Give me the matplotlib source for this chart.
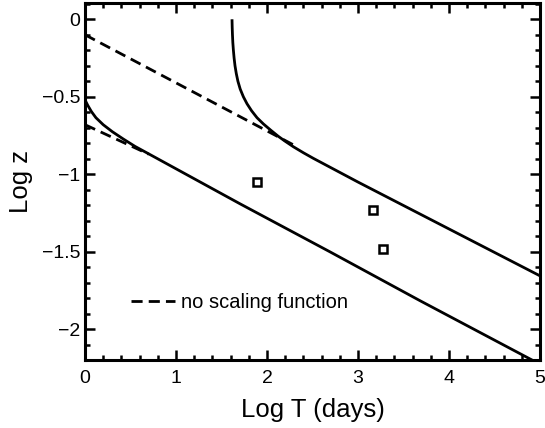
import matplotlib
matplotlib.use("Agg")
import matplotlib.pyplot as plt
from matplotlib.ticker import MultipleLocator

plt.rcParams['font.family'] = ['Liberation Sans', 'DejaVu Sans']

# upper model curve (with scaling function)
upper_x = [1.615, 1.617, 1.620, 1.624, 1.630, 1.638, 1.648, 1.662, 1.680,
           1.705, 1.740, 1.780, 1.830, 1.890, 1.960, 2.040, 2.124, 2.200,
           2.289, 2.400, 2.509, 3.0, 5.0]
upper_y = [0.0, -0.05, -0.10, -0.15, -0.198, -0.25, -0.30, -0.35, -0.40,
           -0.45, -0.50, -0.545, -0.59, -0.635, -0.675, -0.715, -0.755, -0.787,
           -0.822, -0.861, -0.897, -1.05, -1.655]

# lower model curve (with scaling function)
lower_x = [0.0, 0.03, 0.07, 0.12, 0.20, 0.30, 0.42, 0.55, 0.70, 1.703,
           2.692, 3.681, 5.0]
lower_y = [-0.52, -0.555, -0.595, -0.635, -0.68, -0.725, -0.772, -0.82,
           -0.868, -1.19, -1.50, -1.815, -2.225]

# power laws without the scaling function
dash_upper_x = [0.0, 2.3]
dash_upper_y = [-0.10, -0.813]
dash_lower_x = [0.0, 0.7]
dash_lower_y = [-0.68, -0.87]

# observed points
obs_x = [1.886, 3.168, 3.278]
obs_y = [-1.052, -1.230, -1.482]

fig = plt.figure(figsize=(5.45, 4.28), dpi=100)
ax = fig.add_axes([0.156, 0.159, 0.835, 0.834])

lw = 2.0
dash = (4, 2.2)
ax.plot(upper_x, upper_y, color='black', lw=lw, solid_capstyle='butt',
        solid_joinstyle='round')
ax.plot(lower_x, lower_y, color='black', lw=lw, solid_capstyle='butt',
        solid_joinstyle='round')
ax.plot(dash_upper_x, dash_upper_y, color='black', lw=lw, dashes=dash,
        label='no scaling function')
ax.plot(dash_lower_x, dash_lower_y, color='black', lw=lw, dashes=dash)
ax.plot(obs_x, obs_y, linestyle='none', marker='s', markersize=5.5,
        markerfacecolor='white', markeredgecolor='black', markeredgewidth=1.8)

ax.set_xlim(0, 5)
ax.set_ylim(-2.197, 0.105)

ax.xaxis.set_major_locator(MultipleLocator(1))
ax.xaxis.set_minor_locator(MultipleLocator(0.2))
ax.yaxis.set_major_locator(MultipleLocator(0.5))
ax.yaxis.set_minor_locator(MultipleLocator(0.1))
ax.set_yticks([0, -0.5, -1, -1.5, -2])
ax.set_yticklabels(['0', '\u22120.5', '\u22121', '\u22121.5', '\u22122'])

ax.tick_params(which='both', direction='in', top=True, right=True,
               width=1.8, colors='black', labelsize=14)
ax.tick_params(which='major', length=7.2)
ax.tick_params(which='minor', length=3.6)
ax.tick_params(axis='x', pad=7)
ax.tick_params(axis='y', pad=3.5)

for s in ax.spines.values():
    s.set_linewidth(2.2)

ax.set_xlabel('Log T (days)', fontsize=18.5, labelpad=8)
ax.set_ylabel('Log z', fontsize=18.5, labelpad=6)

leg = ax.legend(loc='center left', bbox_to_anchor=(0.505, -1.824),
                bbox_transform=ax.transData, frameon=False, fontsize=14.5,
                handlelength=2.2, handletextpad=0.3, borderpad=0,
                borderaxespad=0)

fig.savefig('out.png', dpi=100)
